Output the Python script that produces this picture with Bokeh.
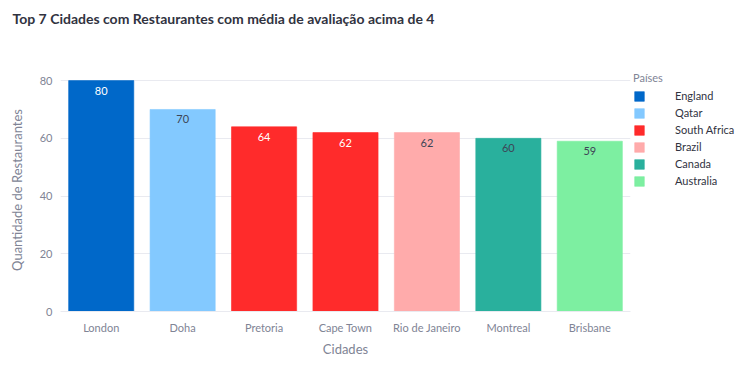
from bokeh.plotting import figure
from bokeh.models import ColumnDataSource, Legend, LegendItem, FixedTicker, Range1d, Title
from bokeh.core.properties import value
from bokeh.embed import file_html
from bokeh.resources import INLINE

cities = ["London", "Doha", "Pretoria", "Cape Town", "Rio de Janeiro", "Montreal", "Brisbane"]
counts = [80, 70, 64, 62, 62, 60, 59]
countries = ["England", "Qatar", "South Africa", "South Africa", "Brazil", "Canada", "Australia"]
country_order = ["England", "Qatar", "South Africa", "Brazil", "Canada", "Australia"]
country_colors = {"England": "#0068c9", "Qatar": "#83c9ff", "South Africa": "#ff2b2b",
                  "Brazil": "#ffabab", "Canada": "#29b09d", "Australia": "#7defa1"}
dark_label = {"England": True, "Qatar": False, "South Africa": True,
              "Brazil": False, "Canada": False, "Australia": False}
title_text = "Top 7 Cidades com Restaurantes com média de avaliação acima de 4"

src = ColumnDataSource(dict(
    city=cities, count=counts, country=countries,
    color=[country_colors[c] for c in countries],
    label=[str(v) for v in counts],
    label_color=["#ffffff" if dark_label[c] else "#3d4556" for c in countries],
))

FONT = "Lato"
FW, FH = 570, 243
p = figure(x_range=cities, frame_width=FW, frame_height=FH, output_backend="svg",
           toolbar_location=None, min_border_left=60, min_border_right=0,
           min_border_top=0, min_border_bottom=64)
p.y_range = Range1d(0, 84.2)

r = p.vbar(x="city", top="count", width=0.8, source=src, fill_color="color",
           line_color="color", line_alpha=0.6)
p.text(x="city", y="count", text="label", source=src, text_color="label_color",
       text_align="center", text_baseline="middle", y_offset=10,
       text_font=value(FONT), text_font_size="11px")

# spacer between title and frame
p.add_layout(Title(text=" ", text_font_size="1px", standoff=31), "above")

p.title.text = title_text
p.title.text_font = FONT
p.title.text_font_size = "14px"
p.title.text_font_style = "bold"
p.title.text_color = "#31333F"
p.title.offset = -48
p.title.standoff = 15

p.outline_line_color = None
p.background_fill_color = "#ffffff"
p.border_fill_color = "#ffffff"
p.xgrid.grid_line_color = None
p.ygrid.grid_line_color = "#e9eaf0"
p.ygrid.grid_line_width = 1
p.yaxis.ticker = FixedTicker(ticks=[0, 20, 40, 60, 80])

for ax in (p.xaxis, p.yaxis):
    ax.major_tick_line_color = None
    ax.minor_tick_line_color = None
    ax.major_tick_out = 0
    ax.major_tick_in = 0
    ax.minor_tick_out = 0
    ax.major_label_text_font = FONT
    ax.major_label_text_font_size = "11px"
    ax.major_label_text_color = "#808495"
    ax.axis_label_text_font = FONT
    ax.axis_label_text_font_size = "13px"
    ax.axis_label_text_font_style = "normal"
    ax.axis_label_text_color = "#808495"

p.yaxis.axis_line_color = None
p.xaxis.axis_line_color = "#e9eaf0"
p.xaxis.axis_label = "Cidades"
p.yaxis.axis_label = "Quantidade de Restaurantes"
p.xaxis.major_label_standoff = 9
p.xaxis.axis_label_standoff = 4
p.yaxis.major_label_standoff = 8
p.yaxis.axis_label_standoff = 12

items = []
for c in country_order:
    idx = countries.index(c)
    items.append(LegendItem(label=c, renderers=[r], index=idx))
legend = Legend(items=items, title="Países", location="top_left",
                label_text_font=FONT, label_text_font_size="11px",
                label_text_color="#31333F", title_text_font=FONT,
                title_text_font_size="11px", title_text_color="#808495",
                title_text_font_style="normal", glyph_width=12, glyph_height=12,
                label_standoff=30, spacing=4, padding=4, margin=3,
                title_standoff=5,
                border_line_color=None, background_fill_alpha=0)
p.add_layout(legend, "right")

open("out.html", "w").write(file_html(p, INLINE))
